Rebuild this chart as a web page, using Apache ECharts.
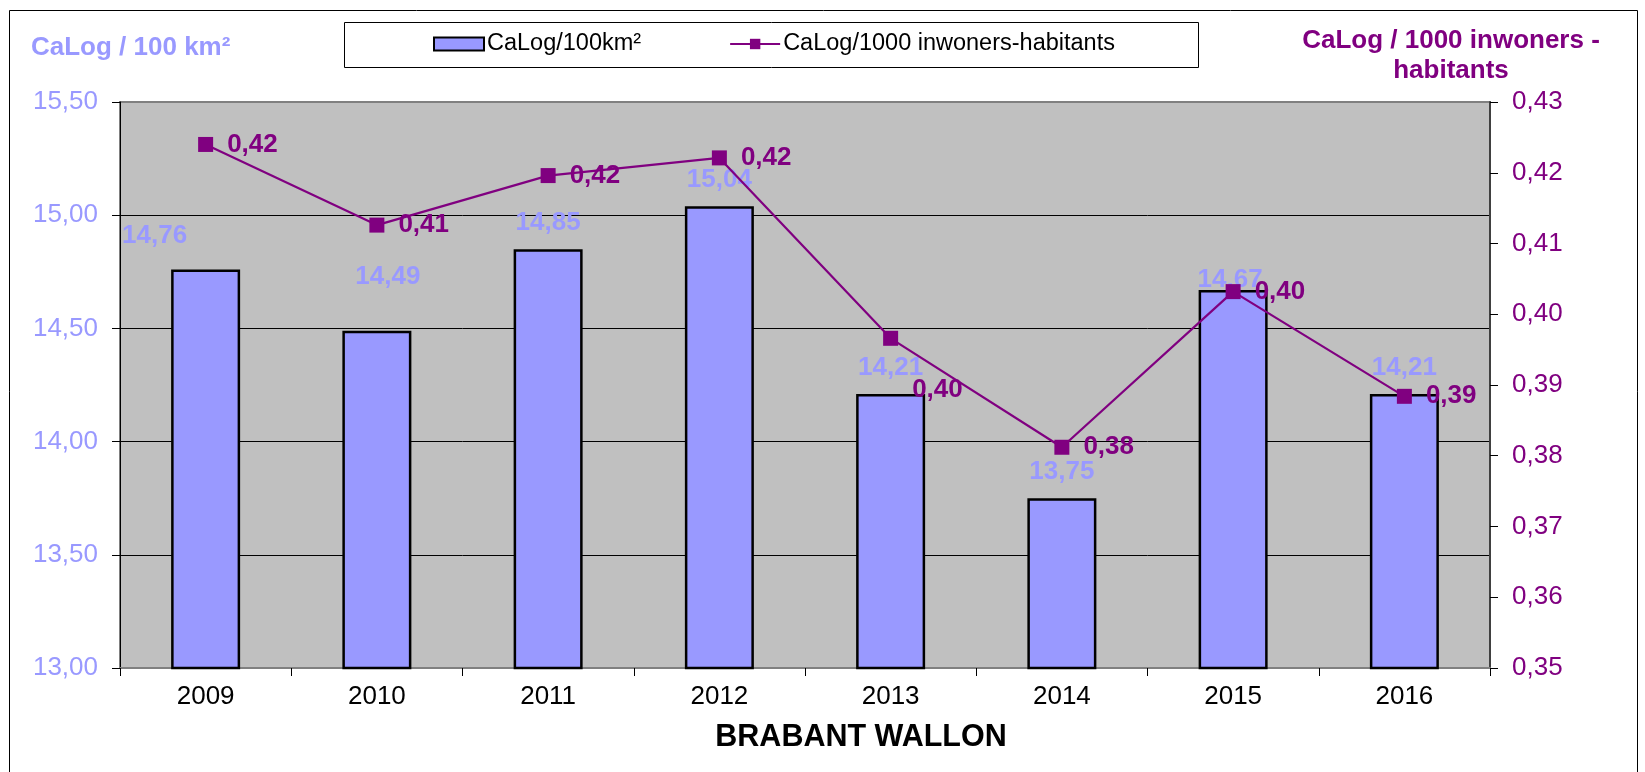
<!DOCTYPE html>
<html>
<head>
<meta charset="utf-8">
<title>BRABANT WALLON</title>
<script src="https://cdn.jsdelivr.net/npm/echarts@6/dist/echarts.min.js"></script>
<style>
  html, body { margin: 0; padding: 0; background: #fff; }
  #chart { width: 1645px; height: 772px; }
</style>
</head>
<body>
<div id="chart"></div>
<script>
// jaren
var years = ['2009', '2010', '2011', '2012', '2013', '2014', '2015', '2016'];
// CaLog / 100 km²
var perArea = [14.76, 14.49, 14.85, 15.04, 14.21, 13.75, 14.67, 14.21];
var perPop = [0.4240, 0.4126, 0.4196, 0.4221, 0.3966, 0.3812, 0.4032, 0.3884];

var purple = '#800080';
var lilac = '#9999FF';
var font = 'Liberation Sans, Arial, sans-serif';

//komma als decimaalteken
function fmt(v) {
    return Number(v).toFixed(2).replace('.', ',');
}

//labels die in het origineel handmatig verschoven staan
var barLabelShift = { 0: [-51, -8], 1: [11, -28], 6: [-3, 16] };
var lineLabelShift = { 4: [0, 52] };

var barData = perArea.map(function (v, i) {
    var item = { value: v };
    if (barLabelShift[i]) item.label = { offset: barLabelShift[i] };
    return item;
});
var lineData = perPop.map(function (v, i) {
    var item = { value: v };
    if (lineLabelShift[i]) item.label = { offset: lineLabelShift[i] };
    return item;
});

var chart = echarts.init(document.getElementById('chart'), null, { renderer: 'canvas' });

var option = {
    backgroundColor: '#fff',
    animation: false,
    textStyle: { fontFamily: font },
    graphic: [
        {
            type: 'rect', z: -10, silent: true,
            shape: { x: 9.5, y: 10.5, width: 1628, height: 800 },
            style: { fill: 'none', stroke: '#000', lineWidth: 1 }
        },
        {
            type: 'rect', z: -10, silent: true,
            shape: { x: 344.5, y: 22.5, width: 854, height: 45 },
            style: { fill: '#fff', stroke: '#000', lineWidth: 1 }
        },
        {
            type: 'text', silent: true,
            style: {
                text: 'CaLog / 100 km²', x: 31, y: 48,
                textVerticalAlign: 'middle',
                font: 'bold 26px ' + font, fill: lilac
            }
        },
        {
            type: 'text', silent: true,
            style: {
                text: 'CaLog / 1000 inwoners -', x: 1451, y: 41,
                textAlign: 'center', textVerticalAlign: 'middle',
                font: 'bold 26px ' + font, fill: purple
            }
        },
        {
            type: 'text', silent: true,
            style: {
                text: 'habitants', x: 1451, y: 71,
                textAlign: 'center', textVerticalAlign: 'middle',
                font: 'bold 26px ' + font, fill: purple
            }
        },
        {
            type: 'text', silent: true,
            style: {
                text: 'BRABANT WALLON', x: 861, y: 738,
                textAlign: 'center', textVerticalAlign: 'middle',
                font: 'bold 30.5px ' + font, fill: '#000'
            }
        }
    ],
    legend: {
        left: 433,
        top: 32,
        padding: 0,
        itemGap: 88,
        itemWidth: 50,
        itemHeight: 13,
        textStyle: { fontSize: 23.5, color: '#000', fontFamily: font, padding: [0, 0, 0, -2] },
        data: [
            { name: 'CaLog/100km²', icon: 'rect' },
            { name: 'CaLog/1000 inwoners-habitants' }
        ]
    },
    grid: {
        left: 120,
        right: 155,
        top: 102,
        bottom: 104,
        show: true,
        backgroundColor: '#C0C0C0',
        borderColor: '#808080',
        borderWidth: 2
    },
    xAxis: {
        type: 'category',
        data: years,
        boundaryGap: true,
        axisLine: { lineStyle: { color: '#808080', width: 2 } },
        axisTick: { show: true, length: 8, lineStyle: { color: '#000' } },
        axisLabel: { fontSize: 26, color: '#000', margin: 16 },
        splitLine: { show: false }
    },
    yAxis: [
        {
            type: 'value',
            min: 13,
            max: 15.5,
            interval: 0.5,
            position: 'left',
            axisLine: { show: true, lineStyle: { color: '#000', width: 1 } },
            axisTick: { show: true, length: 8, lineStyle: { color: '#000' } },
            axisLabel: { fontSize: 26, color: lilac, margin: 22, formatter: fmt },
            splitLine: {
                show: true,
                lineStyle: { color: ['#808080', '#000', '#000', '#000', '#000', '#808080'], width: 1 }
            }
        },
        {
            type: 'value',
            min: 0.35,
            max: 0.43,
            interval: 0.01,
            position: 'right',
            axisLine: { show: true, lineStyle: { color: '#404040', width: 2 } },
            axisTick: { show: true, length: 8, lineStyle: { color: '#000' } },
            axisLabel: { fontSize: 26, color: purple, margin: 22, formatter: fmt },
            splitLine: { show: false }
        }
    ],
    series: [
        {
            name: 'CaLog/100km²',
            type: 'bar',
            yAxisIndex: 0,
            barWidth: 69,
            itemStyle: { color: lilac, borderColor: '#000', borderWidth: 2.5 },
            label: {
                show: true,
                position: 'top',
                distance: 13,
                fontSize: 26,
                fontWeight: 'bold',
                color: lilac,
                formatter: function (p) { return fmt(p.value); }
            },
            data: barData
        },
        {
            name: 'CaLog/1000 inwoners-habitants',
            type: 'line',
            yAxisIndex: 1,
            symbol: 'rect',
            symbolSize: 15,
            z: 5,
            itemStyle: { color: purple },
            lineStyle: { color: purple, width: 2.2 },
            label: {
                show: true,
                position: 'right',
                distance: 14,
                fontSize: 26,
                fontWeight: 'bold',
                color: purple,
                formatter: function (p) { return fmt(p.value); }
            },
            data: lineData
        }
    ]
};

chart.setOption(option);
</script>
</body>
</html>
